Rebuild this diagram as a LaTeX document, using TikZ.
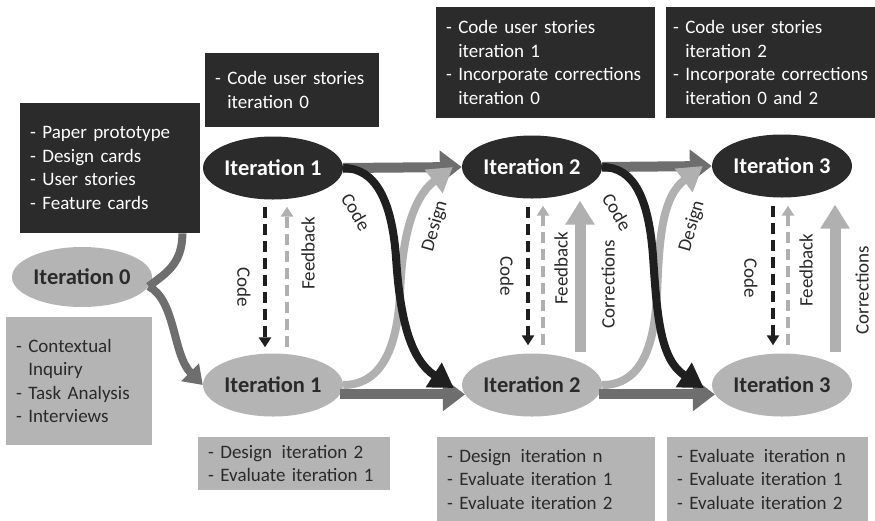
\documentclass[tikz,border=0pt]{standalone}
\usepackage{fontspec}
\setmainfont{Carlito}
\usetikzlibrary{arrows.meta,shapes.geometric,calc}
\definecolor{panel}{HTML}{2B2B2B}
\definecolor{pale}{HTML}{B4B4B4}
\definecolor{ink}{HTML}{2A2A2A}
\definecolor{mid}{HTML}{6E6E6E}
\definecolor{soft}{HTML}{B0B0B0}
\definecolor{deep}{HTML}{1F1F1F}
\newcommand\contind{\hphantom{- }}

\begin{document}
\begin{tikzpicture}[x=1pt,y=-1pt,
  boxtext/.style={font=\fontsize{19}{23.5}\selectfont},
  panelbox/.style={boxtext, anchor=north west, fill=panel, text=white, align=left, inner xsep=10pt, inner ysep=0pt},
  palebox/.style={panelbox, fill=pale, text=ink},
  iter/.style={ellipse, inner sep=0pt, minimum width=140pt, minimum height=63pt, font=\bfseries\fontsize{22.5}{25}\selectfont},
  darkiter/.style={iter, fill=panel, text=white},
  paleiter/.style={iter, fill=pale, text=ink},
  flow/.style={draw=mid, line width=10pt, -{Triangle[length=22pt,width=32pt]}},
  feed/.style={draw=mid, line width=8pt},
  feedarrow/.style={feed, -{Triangle[length=18pt,width=24pt]}},
  codecurve/.style={draw=deep, line width=8pt, -{Triangle[length=24pt,width=28pt]}},
  designcurve/.style={draw=soft, line width=8pt, -{Triangle[length=24pt,width=28pt]}},
  dashcode/.style={draw=deep, line width=4pt, dash pattern=on 11pt off 6pt, -{Triangle[length=10pt,width=12pt]}},
  dashfeed/.style={draw=soft, line width=4pt, dash pattern=on 11pt off 6pt, -{Triangle[length=10pt,width=12pt]}},
  fix/.style={draw=soft, line width=11pt, -{Triangle[length=24pt,width=28pt]}},
  lbl/.style={font=\fontsize{19}{22}\selectfont, text=ink, inner sep=0pt},
]
\fill[white] (0,0) rectangle (875,520);
\useasboundingbox (0,0) rectangle (875,520);

% text panels
\node[panelbox, text width=160pt, minimum height=130pt] (prep) at (20,103)
  {\mbox{- Paper prototype}\\\mbox{- Design cards}\\\mbox{- User stories}\\\mbox{- Feature cards}};
\node[palebox, text width=126pt, minimum height=128pt] (ctx) at (6,317)
  {\mbox{- Contextual}\\\mbox{\contind Inquiry}\\\mbox{- Task Analysis}\\\mbox{- Interviews}};
\node[panelbox, text width=154pt, minimum height=74pt] (c0) at (205,53)
  {\mbox{- Code user stories}\\\mbox{\contind iteration 0}};
\node[panelbox, text width=199pt, minimum height=111pt] (c1) at (436,7)
  {\mbox{- Code user stories}\\\mbox{\contind iteration 1}\\\mbox{- Incorporate corrections}\\\mbox{\contind iteration 0}};
\node[panelbox, inner xsep=7pt, text width=200pt, minimum height=111pt] (c2) at (666,7)
  {\mbox{- Code user stories}\\\mbox{\contind iteration 2}\\\mbox{- Incorporate corrections}\\\mbox{\contind iteration 0 and 2}};
\node[palebox, text width=172pt, minimum height=53pt] (e1) at (198,437)
  {\mbox{- Design\enspace iteration 2}\\\mbox{- Evaluate iteration 1}};
\node[palebox, text width=198pt, minimum height=84pt] (e2) at (437,437)
  {\mbox{- Design\enspace iteration n}\\\mbox{- Evaluate iteration 1}\\\mbox{- Evaluate iteration 2}};
\node[palebox, text width=181pt, minimum height=84pt] (e3) at (667,437)
  {\mbox{- Evaluate\enspace iteration n}\\\mbox{- Evaluate iteration 1}\\\mbox{- Evaluate iteration 2}};

% iterations
\node[paleiter, minimum height=60pt] (i0) at (82,277) {Iteration 0};
\node[darkiter] (i1t) at (273,168) {Iteration 1};
\node[darkiter] (i2t) at (532,167) {Iteration 2};
\node[darkiter] (i3t) at (782,166) {Iteration 3};
\node[paleiter] (i1b) at (273,385) {Iteration 1};
\node[paleiter] (i2b) at (532,385) {Iteration 2};
\node[paleiter] (i3b) at (782,385) {Iteration 3};

% iteration 0 outputs
\draw[feed] ($(prep.south east)+(-18,0)$) .. controls +(0,32) and +(15,-12) .. (i0.-8);
\draw[feedarrow] (i0.-8) .. controls +(27,14) and +(-30,-30) .. (i1b.west);

% straight hand-overs
\draw[flow] (i1t.east) -- (i2t.west);
\draw[flow] (i2t.east) -- (i3t.west);
\draw[flow] (i1b.-8) -- (i2b.188);
\draw[flow] (i2b.-8) -- (i3b.188);

% design curves: bottom row up to the next top iteration
\draw[designcurve] (i1b.east) .. controls +(42,0) and +(-2,50) .. ++(57,-95)
  .. controls +(2,-50) and +(-41,31) .. ($(i2t.west)+(-9,0)$);
\draw[designcurve] (i2b.east) .. controls +(42,0) and +(-2,50) .. ++(55,-95)
  .. controls +(2,-50) and +(-41,31) .. ($(i3t.west)+(-9,0)$);
\node[lbl, rotate=74] at (435,226) {Design};
\node[lbl, rotate=74] at (692,226) {Design};

% code curves: top row down to the next bottom iteration
\draw[codecurve] (i1t.east) .. controls +(32,0) and +(-4,-60) .. ++(53,92)
  .. controls +(4,60) and +(-43,-28) .. ($(i2b.west)+(-8,3)$);
\draw[codecurve] (i2t.east) .. controls +(32,0) and +(-4,-60) .. ++(51,92)
  .. controls +(4,60) and +(-43,-28) .. ($(i3b.west)+(-8,3)$);
\node[lbl, rotate=-60] at (356,212) {Code};
\node[lbl, rotate=-60] at (617,212) {Code};

% code / feedback loops
\draw[dashcode] ($(i1t.south)+(-8,7)$) -- ($(i1b.north)+(-8,-6)$);
\draw[dashfeed] ($(i1b.north)+(14,-6)$) -- ($(i1t.south)+(14,7)$);
\draw[dashcode] ($(i2t.south)+(-4,8)$) -- ($(i2b.north)+(-4,-8)$);
\draw[dashfeed] ($(i2b.north)+(11,-8)$) -- ($(i2t.south)+(11,7)$);
\draw[dashcode] ($(i3t.south)+(-9,8)$) -- ($(i3b.north)+(-9,-8)$);
\draw[dashfeed] ($(i3b.north)+(6,-8)$) -- ($(i3t.south)+(6,8)$);
\node[lbl, rotate=-90] at (244,287) {Code};
\node[lbl, rotate=90] at (308,253) {Feedback};
\node[lbl, rotate=-90] at (507,276) {Code};
\node[lbl, rotate=90] at (561,268) {Feedback};
\node[lbl, rotate=-90] at (751,278) {Code};
\node[lbl, rotate=90] at (806,270) {Feedback};

% corrections
\draw[fix] ($(i2b.north)+(48,-1)$) -- ($(i2t.south)+(48,2)$);
\draw[fix] ($(i3b.north)+(53,-1)$) -- ($(i3t.south)+(53,7)$);
\node[lbl, rotate=90] at (608,284) {Corrections};
\node[lbl, rotate=90] at (862,290) {Corrections};
\end{tikzpicture}
\end{document}
